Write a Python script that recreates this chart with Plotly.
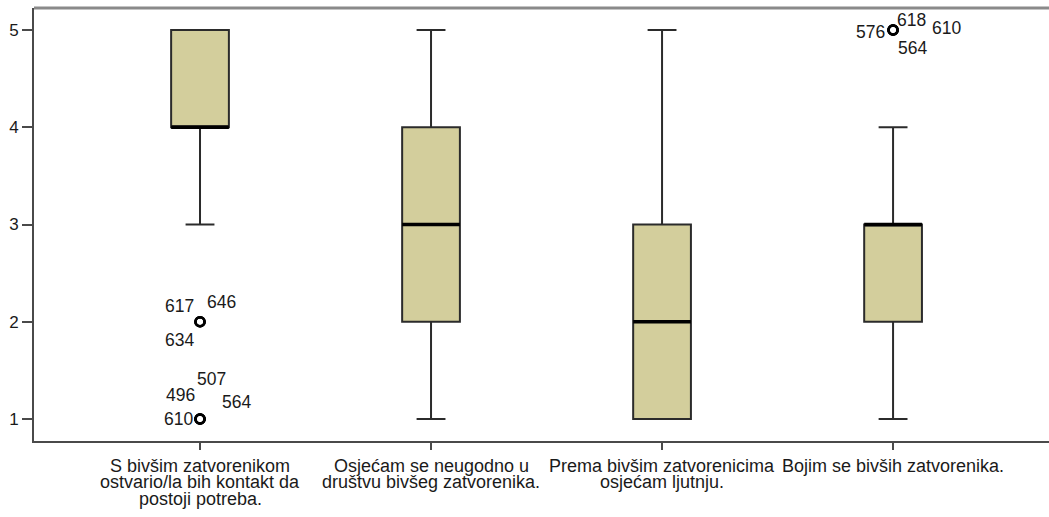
import plotly.graph_objects as go

# ---- data ----
category_lines = [
    ["S bivšim zatvorenikom", "ostvario/la bih kontakt da", "postoji potreba."],
    ["Osjećam se neugodno u", "društvu bivšeg zatvorenika."],
    ["Prema bivšim zatvorenicima", "osjećam ljutnju."],
    ["Bojim se bivših zatvorenika."],
]
q1 = [4, 2, 1, 2]
median = [4, 3, 2, 3]
q3 = [5, 4, 3, 3]
lower_whisker = [3, 1, 1, 1]
upper_whisker = [5, 5, 5, 4]

outlier_cat = [0, 0, 0, 0, 0, 0, 0, 3, 3, 3, 3]
outlier_val = [2, 2, 2, 1, 1, 1, 1, 5, 5, 5, 5]
outlier_id = ["617", "646", "634", "496", "507", "564", "610", "576", "618", "610", "564"]

y_ticks = [1, 2, 3, 4, 5]

# ---- styling ----
label_shift = [(-21, 16), (21, 20), (-21, -18), (-20, 24), (11, 40), (36, 17),
               (-22, 0), (-23, -2), (18, 10), (53, 2), (19, -18)]
FONT = "Liberation Sans, Arial, sans-serif"
FILL = "#D3CE9C"
BOX_W = 0.25

xs = list(range(len(category_lines)))
fig = go.Figure()

fig.add_trace(go.Box(
    x=xs, q1=q1, median=median, q3=q3,
    lowerfence=lower_whisker, upperfence=upper_whisker,
    width=BOX_W, whiskerwidth=0.5,
    fillcolor=FILL, line=dict(color="#2b2b2b", width=2),
    boxpoints=False, hoverinfo="skip", showlegend=False,
))

# thick median lines
for i, m in zip(xs, median):
    fig.add_trace(go.Scatter(
        x=[i - BOX_W / 2, i + BOX_W / 2], y=[m, m], mode="lines",
        line=dict(color="#000000", width=3.5), showlegend=False, hoverinfo="skip",
    ))

# outliers
fig.add_trace(go.Scatter(
    x=outlier_cat, y=outlier_val, mode="markers",
    marker=dict(symbol="circle-open", size=9, color="#000000", line=dict(width=2.6, color="#000000")),
    showlegend=False, hoverinfo="skip",
))

annotations = []
for c, v, t, (dx, dy) in zip(outlier_cat, outlier_val, outlier_id, label_shift):
    annotations.append(dict(
        x=c, y=v, xref="x", yref="y", text=t, showarrow=False,
        xshift=dx, yshift=dy, font=dict(family=FONT, size=17.5, color="#1a1a1a"),
        xanchor="center", yanchor="middle",
    ))

for i, lines in enumerate(category_lines):
    for j, line in enumerate(lines):
        annotations.append(dict(
            x=i, y=0, xref="x", yref="paper", text=line, showarrow=False,
            xanchor="center", yanchor="top", yshift=-13 - 16.3 * j,
            font=dict(family=FONT, size=18, color="#1a1a1a"),
        ))

fig.update_layout(
    width=1049, height=517,
    margin=dict(l=34, r=0, t=8, b=76, autoexpand=False),
    paper_bgcolor="white", plot_bgcolor="white",
    annotations=annotations,
    shapes=[dict(type="line", xref="paper", yref="paper", x0=0, x1=1, y0=1, y1=1,
                 line=dict(color="#8a8a8a", width=3))],
    xaxis=dict(
        range=[-0.7186, 3.675], tickvals=xs, ticktext=[""] * len(xs), automargin=False,
        showgrid=False, zeroline=False, showline=True, linecolor="#4a4a4a", linewidth=2,
        ticks="outside", ticklen=7, tickwidth=2, tickcolor="#4a4a4a",
    ),
    yaxis=dict(
        range=[0.774, 5.226], tickvals=y_ticks, ticktext=[str(v) for v in y_ticks], automargin=False,
        showgrid=False, zeroline=False, showline=True, linecolor="#4a4a4a", linewidth=2,
        ticks="outside", ticklen=10, tickwidth=2, tickcolor="#4a4a4a",
        tickfont=dict(family=FONT, size=17, color="#1a1a1a"),
    ),
)

fig.write_html(
    "out.html",
    config={"displayModeBar": False, "staticPlot": True},
    post_script="document.body.style.margin='0';document.body.style.overflow='hidden';",
)
